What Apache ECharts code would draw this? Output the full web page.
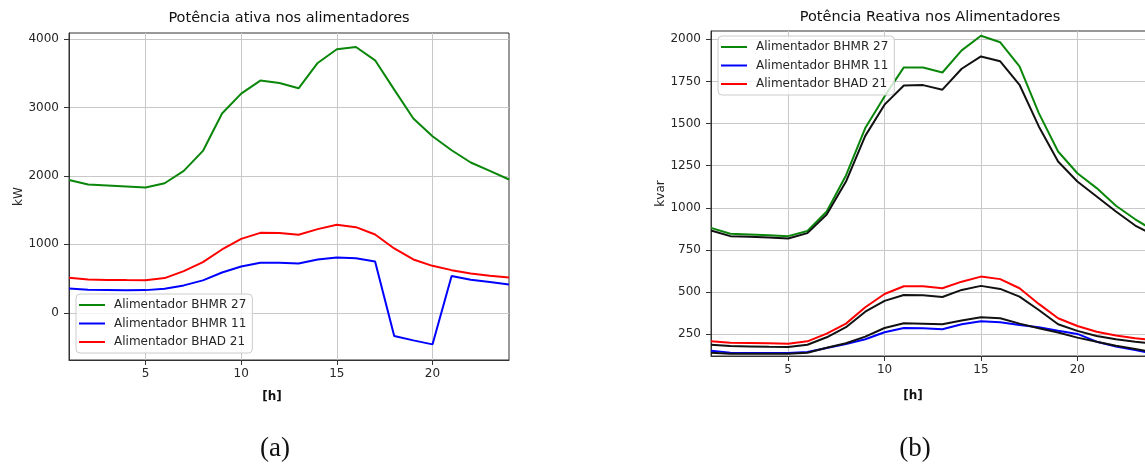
<!DOCTYPE html>
<html>
<head>
<meta charset="utf-8">
<script src="https://cdn.jsdelivr.net/npm/echarts@6/dist/echarts.min.js"></script>
<style>
  html, body { margin: 0; padding: 0; background: #ffffff; }
  #chart { width: 1145px; height: 468px; }
</style>
</head>
<body>
<div id="chart"></div>
<script>
// Hours of the day
const hours = [1, 2, 3, 4, 5, 6, 7, 8, 9, 10, 11, 12, 13, 14, 15, 16, 17, 18, 19, 20, 21, 22, 23, 24];

// (a) Active power per feeder [kW]
const ativaBHMR27 = [1940, 1874, 1860, 1845, 1830, 1893, 2073, 2365, 2911, 3203, 3393, 3358, 3280, 3650, 3850, 3883, 3689, 3260, 2838, 2580, 2375, 2196, 2073, 1947];
const ativaBHMR11 = [356, 336, 333, 330, 331, 351, 400, 473, 589, 677, 730, 730, 721, 779, 808, 798, 750, -340, -403, -462, 536, 482, 448, 414];
const ativaBHAD21 = [511, 487, 480, 478, 477, 507, 609, 740, 925, 1080, 1168, 1165, 1139, 1222, 1285, 1251, 1144, 940, 779, 686, 623, 575, 540, 516];

// (b) Reactive power per feeder [kvar], with reference curves (black)
const reativaBHMR27 = [881, 846, 842, 838, 832, 863, 978, 1192, 1473, 1661, 1833, 1833, 1803, 1934, 2021, 1982, 1839, 1562, 1334, 1205, 1117, 1012, 932, 862];
const reativaBHMR27Ref = [865, 832, 828, 824, 818, 850, 960, 1156, 1427, 1612, 1726, 1728, 1701, 1825, 1898, 1869, 1730, 1483, 1275, 1156, 1067, 978, 895, 835];
const reativaBHAD21 = [208, 200, 198, 196, 194, 208, 254, 313, 410, 489, 535, 535, 523, 562, 592, 577, 523, 430, 345, 299, 265, 242, 226, 214];
const reativaBHAD21Ref = [188, 180, 178, 176, 175, 188, 232, 292, 384, 448, 483, 481, 471, 513, 537, 519, 473, 394, 309, 270, 240, 220, 206, 194];
const reativaBHMR11 = [152, 141, 139, 139, 139, 145, 168, 192, 220, 262, 287, 285, 280, 309, 327, 321, 305, 292, 271, 252, 206, 177, 157, 132];
const reativaBHMR11Ref = [140, 135, 135, 135, 135, 140, 170, 197, 236, 287, 315, 313, 309, 331, 351, 345, 313, 286, 260, 230, 206, 182, 163, 142];

// Tick labels
const xTicks = [5, 10, 15, 20];
const yTicksAtiva = [0, 1000, 2000, 3000, 4000];
const yTicksReativa = [250, 500, 750, 1000, 1250, 1500, 1750, 2000];

const legendNames = ['Alimentador BHMR 27', 'Alimentador BHMR 11', 'Alimentador BHAD 21'];

const FONT = 'DejaVu Sans';
const GREEN = '#0a870a';
const BLUE = '#0000ff';
const RED = '#ff0000';
const BLACK = '#111111';
const GRID_COLOR = '#c8c8c8';

const pair = arr => hours.map((h, i) => [h, arr[i]]);
const plain = v => String(v);

function xAxisCfg(gridIndex) {
  return {
    type: 'value', gridIndex, min: 1, max: 24,
    axisLine: { show: true, onZero: false, lineStyle: { color: '#333', width: 1 } },
    axisTick: { show: true, length: 5, customValues: xTicks, lineStyle: { color: '#333' } },
    axisLabel: { customValues: xTicks, formatter: plain, color: '#262626', fontFamily: FONT, fontSize: 12, margin: 8 },
    splitLine: { show: true, lineStyle: { color: GRID_COLOR, width: 1 } }
  };
}

function yAxisCfg(gridIndex, min, max, ticks, name, gap) {
  return {
    type: 'value', gridIndex, min, max,
    name, nameLocation: 'middle', nameGap: gap, nameRotate: 90,
    nameTextStyle: { color: '#262626', fontFamily: FONT, fontSize: 12 },
    axisLine: { show: true, onZero: false, lineStyle: { color: '#333', width: 1 } },
    axisTick: { show: true, length: 5, customValues: ticks, lineStyle: { color: '#333' } },
    axisLabel: { customValues: ticks, formatter: plain, color: '#262626', fontFamily: FONT, fontSize: 12, margin: 10 },
    splitLine: { show: true, lineStyle: { color: GRID_COLOR, width: 1 } }
  };
}

function line(name, data, color, axisIndex, z) {
  return {
    type: 'line', name, data: pair(data),
    xAxisIndex: axisIndex, yAxisIndex: axisIndex,
    symbol: 'none', showSymbol: false, z: z || 2,
    lineStyle: { color, width: 2 }, itemStyle: { color },
    emphasis: { disabled: true }
  };
}

function legendCfg(left, top) {
  return {
    data: legendNames, orient: 'vertical', left, top,
    icon: 'rect', itemWidth: 26, itemHeight: 2, itemGap: 4.5,
    padding: [4, 6, 4, 3],
    backgroundColor: 'rgba(255,255,255,0.8)',
    borderColor: '#cccccc', borderWidth: 1, borderRadius: 4,
    textStyle: { color: '#262626', fontFamily: FONT, fontSize: 12, lineHeight: 14, padding: [0, 0, 0, 4] },
    selectedMode: false
  };
}

function text(x, y, str, font, size, weight) {
  return {
    type: 'text', x, y, silent: true,
    style: {
      text: str, fill: '#111', font: (weight || 'normal') + ' ' + size + 'px "' + font + '"',
      textAlign: 'center', textVerticalAlign: 'middle'
    }
  };
}

const chart = echarts.init(document.getElementById('chart'));
chart.setOption({
  animation: false,
  backgroundColor: '#ffffff',
  grid: [
    { left: 69, top: 33, right: 636, bottom: 108, show: true, borderColor: '#333', borderWidth: 1, outerBoundsMode: 'none' },
    { left: 711, top: 31, right: -9.5, bottom: 112, show: true, borderColor: '#333', borderWidth: 1, outerBoundsMode: 'none' }
  ],
  xAxis: [xAxisCfg(0), xAxisCfg(1)],
  yAxis: [
    yAxisCfg(0, -690, 4088, yTicksAtiva, 'kW', 42),
    yAxisCfg(1, 121, 2049, yTicksReativa, 'kvar', 44)
  ],
  legend: [legendCfg(76, 294), legendCfg(718, 36)],
  series: [
    line('Alimentador BHMR 27', ativaBHMR27, GREEN, 0),
    line('Alimentador BHMR 11', ativaBHMR11, BLUE, 0),
    line('Alimentador BHAD 21', ativaBHAD21, RED, 0),
    line('Alimentador BHMR 27', reativaBHMR27, GREEN, 1),
    line('Alimentador BHMR 11', reativaBHMR11, BLUE, 1),
    line('Alimentador BHAD 21', reativaBHAD21, RED, 1),
    line('BHMR 27 (referência)', reativaBHMR27Ref, BLACK, 1, 3),
    line('BHAD 21 (referência)', reativaBHAD21Ref, BLACK, 1, 3),
    line('BHMR 11 (referência)', reativaBHMR11Ref, BLACK, 1, 3)
  ],
  graphic: [
    text(289, 18, 'Potência ativa nos alimentadores', FONT, 14.5),
    text(930, 17, 'Potência Reativa nos Alimentadores', FONT, 14.5),
    text(272, 397, '[h]', FONT, 12, 'bold'),
    text(913, 396, '[h]', FONT, 12, 'bold'),
    text(275, 449, '(a)', 'Liberation Serif', 27),
    text(915, 449, '(b)', 'Liberation Serif', 27)
  ]
});
</script>
</body>
</html>
